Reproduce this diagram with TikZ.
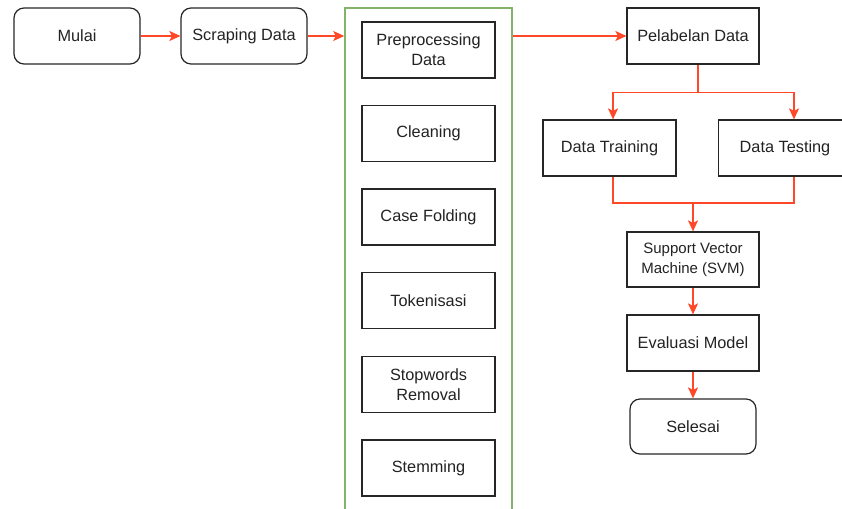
\documentclass[tikz,border=0pt]{standalone}
\usepackage{fontspec}
\setmainfont{Liberation Sans}
\usetikzlibrary{arrows.meta,calc}
\definecolor{flowred}{RGB}{255,72,40}
\definecolor{groupgreen}{RGB}{130,179,102}
\definecolor{textgray}{RGB}{34,34,34}
\tikzset{
  box/.style={draw=black!85, line width=1.2pt, rectangle, inner sep=0pt,
    minimum width=133pt, minimum height=56pt, align=center, text=textgray,
    font=\fontsize{16.3}{20}\selectfont},
  terminal/.style={box, rounded corners=10pt, minimum width=126pt},
  group/.style={draw=groupgreen, line width=1.5pt, rectangle, inner sep=0pt,
    minimum width=167pt, minimum height=520pt},
  flow/.style={draw=flowred, line width=1.2pt, -{Stealth[length=11pt,width=10pt,inset=2.5pt]}},
  link/.style={draw=flowred, line width=1.2pt},
}
\begin{document}
\begin{tikzpicture}[x=1pt, y=-1pt]
\useasboundingbox (0,0) rectangle (842,508);

% start and scraping
\node[terminal] (mulai) at (77,36) {Mulai};
\node[terminal] (scrap) at (244,36) {Scraping Data};

% preprocessing group
\node[group] (prep) at (428.5,268) {};
\node[box] (pre)   at (428.5,50)    {Preprocessing\\Data};
\node[box] (clean) at (428.5,133.5) {Cleaning};
\node[box] (fold)  at (428.5,217)   {Case Folding};
\node[box] (token) at (428.5,300.5) {Tokenisasi};
\node[box] (stop)  at (428.5,384.5) {Stopwords\\Removal};
\node[box] (stem)  at (428.5,468)   {Stemming};

% labelling and split
\node[box, minimum width=132pt] (label) at (693,36) {Pelabelan Data};
\node[box] (train) at (609.5,148) {Data Training};
\node[box] (test)  at (785,148)   {Data Testing};

% model and end
\node[box, minimum width=132pt, minimum height=55pt,
      font=\fontsize{15}{20}\selectfont] (svm) at (693,259.5) {Support Vector\\Machine (SVM)};
\node[box, minimum width=132pt] (eval) at (693,343) {Evaluasi Model};
\node[terminal, minimum height=55pt] (end) at (693,426.5) {Selesai};

\coordinate (split) at ($(label.south)+(5,28)$);
\coordinate (merge) at (693,203);

% connectors
\draw[flow] (mulai.east) -- (scrap.west);
\draw[flow] (scrap.east) -- (scrap.east -| prep.west);
\draw[flow] (prep.east |- label.west) -- (label.west);
\draw[link] ([xshift=5pt]label.south) -- (split);
\draw[flow] (split) -| ([xshift=3.5pt]train.north);
\draw[flow] (split) -| ([xshift=9pt]test.north);
\draw[link] ([xshift=3.5pt]train.south) |- (merge);
\draw[link] ([xshift=9pt]test.south) |- (merge);
\draw[flow] (merge) -- (merge |- svm.north);
\draw[flow] (svm.south) -- (eval.north);
\draw[flow] (eval.south) -- (end.north);
\end{tikzpicture}
\end{document}
